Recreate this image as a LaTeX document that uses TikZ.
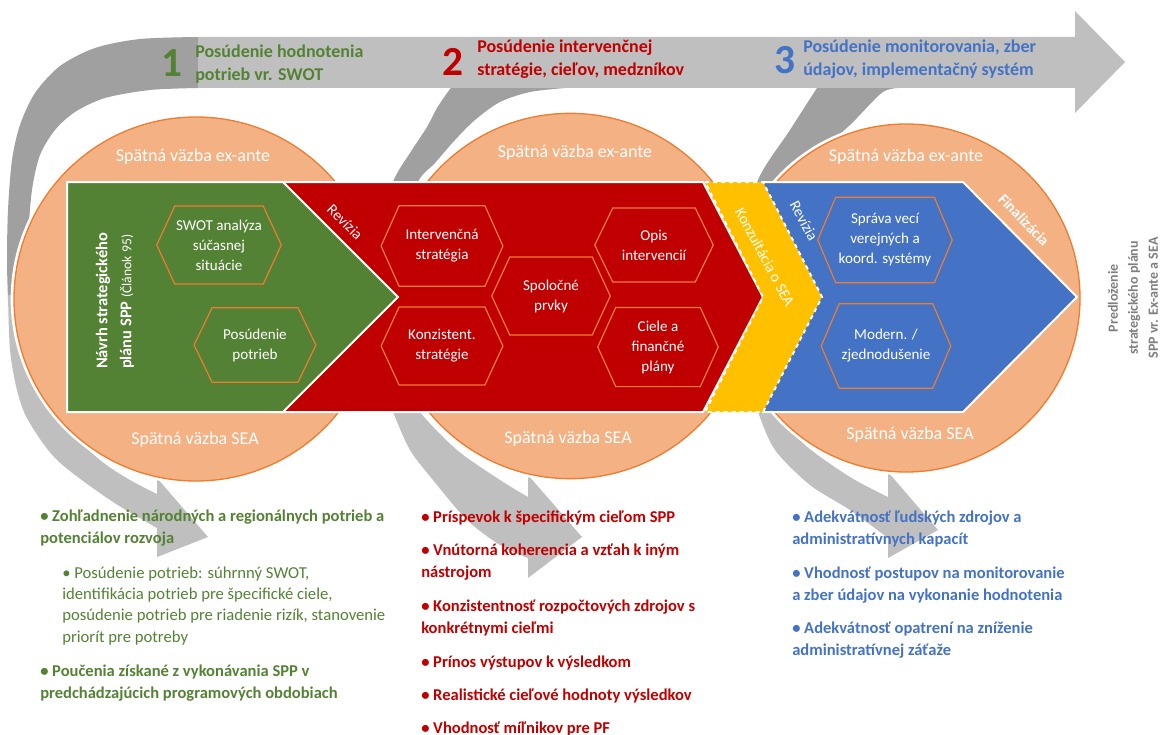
\documentclass[tikz,border=0pt]{standalone}
\usepackage{fontspec}
\setmainfont{Carlito}
\usetikzlibrary{positioning}

\definecolor{sppgreen}{HTML}{548235}
\definecolor{sppred}{HTML}{C00000}
\definecolor{sppblue}{HTML}{4472C4}
\definecolor{sppyellow}{HTML}{FFC000}
\definecolor{fbfill}{HTML}{F4B183}
\definecolor{fbline}{HTML}{ED7D31}
\definecolor{arrlight}{HTML}{BFBFBF}
\definecolor{arrdark}{HTML}{A0A0A0}
\definecolor{notegray}{HTML}{7F7F7F}

\tikzset{
  feedback/.style={circle, inner sep=0pt, fill=fbfill, draw=fbline, line width=1pt,
    preaction={draw=white, line width=5pt}},
  vazba/.style={text=white, font=\fontsize{13.5}{16}\selectfont},
  chev/.style={draw=white, line width=1.5pt},
  hexbox/.style={minimum width=91pt, minimum height=58pt, inner sep=0pt, text=white,
    align=center, font=\fontsize{11.3}{15}\selectfont},
  hexline/.style={draw=fbline, line width=0.9pt},
  tag/.style={text=white, inner sep=1pt, font=\fontsize{11.5}{13}\selectfont},
  headtxt/.style={anchor=base west, align=left, inner sep=0pt,
    font=\bfseries\fontsize{13.5}{17.5}\selectfont},
  num/.style={font=\bfseries\fontsize{31}{31}\selectfont},
  bul/.style={anchor=base west, align=left, inner sep=0pt,
    font=\bfseries\fontsize{12.4}{16.5}\selectfont}
}

\begin{document}
\begin{tikzpicture}[x=0.75pt, y=-0.75pt]
  \useasboundingbox (0,0) rectangle (1160,735);

  % curved grey arrows
  \fill[arrdark] plot[smooth] coordinates {(198,37) (140,39) (95,48) (60,66) (35,93) (20,125) (12,160) (8,210) (7,260) (8,300)}
    -- plot[smooth] coordinates {(27,300) (28,240) (32,190) (40,155) (55,130) (75,112) (105,98) (150,90) (198,88)} -- cycle;
  \fill[arrlight] plot[smooth] coordinates {(8,295) (10,350) (17,390) (28,420) (57,460) (110,500) (157,528)}
    -- (157,557) -- (208,537) -- (157,478)
    -- plot[smooth] coordinates {(157,494) (130,480) (100,460) (57,420) (40,390) (30,350) (27,295)} -- cycle;
  \fill[arrdark] plot[smooth] coordinates {(565,37) (520,42) (485,58) (462,75) (450,89) (437,108) (427,127) (410,153) (393,182) (382,230) (378,300)}
    -- plot[smooth] coordinates {(400,300) (405,230) (418,182) (435,163) (455,140) (475,120) (500,102) (530,92) (565,88)} -- cycle;
  \fill[arrlight] plot[smooth] coordinates {(378,295) (380,350) (385,390) (393,412) (410,450) (433,480) (467,520) (500,545) (528,558)}
    -- (528,578) -- (582,537) -- (528,475)
    -- plot[smooth] coordinates {(528,497) (500,480) (457,450) (420,412) (412,390) (405,350) (400,295)} -- cycle;
  \fill[arrdark] plot[smooth] coordinates {(905,37) (860,45) (835,62) (817,88) (790,130) (758,180) (745,240) (742,300)}
    -- plot[smooth] coordinates {(764,300) (768,240) (782,180) (815,155) (850,125) (883,92) (905,88)} -- cycle;
  \fill[arrlight] plot[smooth] coordinates {(742,295) (745,350) (752,390) (758,412) (775,450) (810,485) (850,510) (888,538)}
    -- (888,558) -- (938,530) -- (888,472)
    -- plot[smooth] coordinates {(888,497) (850,477) (805,445) (777,412) (772,390) (767,350) (764,295)} -- cycle;

  % process arrow on top
  \fill[arrlight] (198,37) -- (1075,37) -- (1075,11) -- (1125,62) -- (1075,113) -- (1075,88) -- (198,88) -- cycle;

  % feedback circles
  \node[feedback, minimum size=273pt] (c1) at (196,299) {};
  \node[feedback, minimum size=274pt] (c2) at (570,296) {};
  \node[feedback, minimum size=261pt] (c3) at (906,298) {};

  % chevrons
  \filldraw[chev, fill=sppred] (270,182) -- (703,182) -- (763,297) -- (703,412) -- (270,412) -- cycle;
  \filldraw[chev, fill=sppgreen] (67,182) -- (283,182) -- (398,297) -- (283,412) -- (67,412) -- cycle;
  \filldraw[chev, fill=sppblue] (763,182) -- (963,182) -- (1077,297) -- (963,412) -- (763,412) -- cycle;
  \filldraw[chev, dashed, fill=sppyellow] (705,182) -- (763,182) -- (822,297) -- (763,412) -- (705,412) -- (763,297) -- cycle;

  % hexagons
  \node[hexbox, minimum width=93pt] (swot) at (219,245) {SWOT analýza\\súčasnej\\situácie};
  \node[hexbox, minimum height=55.5pt] (needs) at (255,345) {Posúdenie\\potrieb};
  \node[hexbox, minimum height=60pt] (interv) at (442,246) {Intervenčná\\stratégia};
  \node[hexbox] (konzist) at (442,346) {Konzistent.\\stratégie};
  \node[hexbox, minimum width=88.5pt] (common) at (551,296) {Spoločné\\prvky};
  \node[hexbox, minimum width=88.5pt, minimum height=55pt] (opis) at (654,245) {Opis\\intervencií};
  \node[hexbox, minimum width=90pt, minimum height=59pt] (ciele) at (658,347) {Ciele a\\finančné\\plány};
  \node[hexbox, minimum width=100.5pt, minimum height=63.75pt] (sprava) at (885,240) {Správa vecí\\verejných a\\koord. systémy};
  \node[hexbox, minimum width=96.75pt, minimum height=63pt] (modern) at (886,346) {Modern. /\\zjednodušenie};
  \foreach \n in {swot,needs,interv,konzist,common,opis,ciele,sprava,modern}
    \draw[hexline] (\n.west) -- ([xshift=13.5pt]\n.north west) -- ([xshift=-13.5pt]\n.north east)
      -- (\n.east) -- ([xshift=-13.5pt]\n.south east) -- ([xshift=13.5pt]\n.south west) -- cycle;

  % circle labels
  \node[vazba] (c1top) at (193,157) {Spätná väzba ex-ante};
  \node[vazba] (c2top) at (575,153) {Spätná väzba ex-ante};
  \node[vazba] (c3top) at (906,157) {Spätná väzba ex-ante};
  \node[vazba] (c1bot) at (195,440) {Spätná väzba SEA};
  \node[vazba] (c2bot) at (568,439) {Spätná väzba SEA};
  \node[vazba] (c3bot) at (910,435) {Spätná väzba SEA};

  % chevron labels
  \node[text=white, rotate=90, align=left, font=\bfseries\fontsize{12.3}{18}\selectfont] (navrh) at (115,301)
    {Návrh strategického\\plánu SPP {\mdseries\fontsize{10.3}{18}\selectfont(Článok 95)}};
  \node[tag, rotate=-45] (rev1) at (345,222) {Revízia};
  \node[tag, rotate=-62] (kons) at (765,257) {Konzultácia o SEA};
  \node[tag, rotate=-62] (rev2) at (804,221) {Revízia};
  \node[tag, font=\bfseries\fontsize{11.5}{13}\selectfont, rotate=-46] (fin) at (1024,220) {Finalizácia};
  \node[text=notegray, rotate=90, align=center, font=\bfseries\fontsize{10.5}{15}\selectfont] (submit) at (1133,298)
    {Predloženie\\strategického plánu\\SPP vr. Ex-ante a SEA};

  % phase titles (base = last line)
  \node[num, text=sppgreen] (n1) at (172,63) {1};
  \node[num, text=sppred] (n2) at (453,62) {2};
  \node[num, text=sppblue] (n3) at (785,60) {3};
  \node[headtxt, text=sppgreen] (h1) at (195,81) {Posúdenie hodnotenia\\potrieb vr. SWOT};
  \node[headtxt, text=sppred] (h2) at (477,76) {Posúdenie intervenčnej\\stratégie, cieľov, medzníkov};
  \node[headtxt, text=sppblue] (h3) at (803,76) {Posúdenie monitorovania, zber\\údajov, implementačný systém};

  % bullet lists (base = last line)
  \node[bul, text=sppgreen] (g1) at (40,543) {• Zohľadnenie národných a regionálnych potrieb a\\potenciálov rozvoja};
  \node[bul, text=sppgreen, font=\fontsize{12.5}{16}\selectfont] (g2) at (62,642)
    {• Posúdenie potrieb: súhrnný SWOT,\\identifikácia potrieb pre špecifické ciele,\\posúdenie potrieb pre riadenie rizík, stanovenie\\priorít pre potreby};
  \node[bul, text=sppgreen] (g3) at (40,698) {• Poučenia získané z vykonávania SPP v\\predchádzajúcich programových obdobiach};

  \node[bul, text=sppred] (r1) at (421,522) {• Príspevok k špecifickým cieľom SPP};
  \node[bul, text=sppred] (r2) at (421,577) {• Vnútorná koherencia a vzťah k iným\\nástrojom};
  \node[bul, text=sppred] (r3) at (421,633) {• Konzistentnosť rozpočtových zdrojov s\\konkrétnymi cieľmi};
  \node[bul, text=sppred] (r4) at (421,667) {• Prínos výstupov k výsledkom};
  \node[bul, text=sppred] (r5) at (421,700) {• Realistické cieľové hodnoty výsledkov};
  \node[bul, text=sppred] (r6) at (421,733) {• Vhodnosť míľnikov pre PF};

  \node[bul, text=sppblue] (b1) at (792,544) {• Adekvátnosť ľudských zdrojov a\\administratívnych kapacít};
  \node[bul, text=sppblue] (b2) at (792,600) {• Vhodnosť postupov na monitorovanie\\a zber údajov na vykonanie hodnotenia};
  \node[bul, text=sppblue] (b3) at (792,655) {• Adekvátnosť opatrení na zníženie\\administratívnej záťaže};
\end{tikzpicture}
\end{document}
